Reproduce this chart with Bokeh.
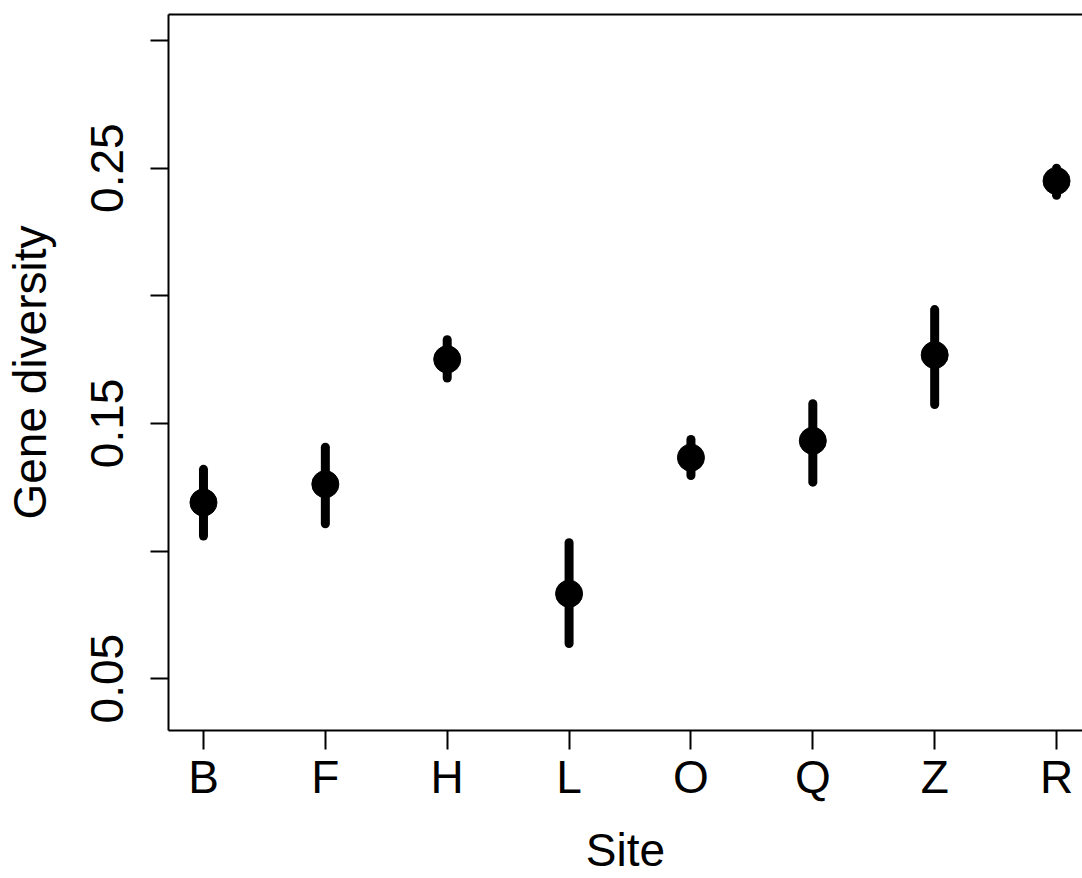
from bokeh.plotting import figure
from bokeh.models import FixedTicker, LinearAxis, Range1d
from bokeh.embed import file_html
from bokeh.resources import INLINE

sites = ["B", "F", "H", "L", "O", "Q", "Z", "R"]
diversity = [0.1190, 0.1262, 0.1751, 0.0833, 0.1366, 0.1432, 0.1768, 0.2450]
upper = [0.1320, 0.1407, 0.1828, 0.1033, 0.1437, 0.1577, 0.1946, 0.2500]
lower = [0.1059, 0.1107, 0.1678, 0.0638, 0.1296, 0.1270, 0.1574, 0.2394]
y_ticks = [0.05, 0.10, 0.15, 0.20, 0.25, 0.30]
y_tick_labels = {0.05: "0.05", 0.10: "", 0.15: "0.15", 0.20: "", 0.25: "0.25", 0.30: ""}

xs = list(range(1, len(sites) + 1))
FONT = "Liberation Sans"
FS = "46px"

p = figure(width=1082, height=878, output_backend="svg", toolbar_location=None,
           x_range=Range1d(0.713, 8.213), y_range=Range1d(0.0297, 0.3102),
           min_border_left=167, min_border_top=14, min_border_right=0, min_border_bottom=147)
p.xgrid.visible = False
p.ygrid.visible = False
p.outline_line_color = None
p.background_fill_color = "white"
p.border_fill_color = "white"

p.segment(x0=xs, y0=lower, x1=xs, y1=upper, line_width=9, line_cap="round", color="black")
p.scatter(xs, diversity, size=27, color="black")

# x axis
xa = p.xaxis[0]
xa.ticker = FixedTicker(ticks=xs)
xa.major_label_overrides = {i: s for i, s in zip(xs, sites)}
xa.minor_tick_line_color = None
xa.major_tick_in = 0
xa.major_tick_out = 19
xa.major_tick_line_width = 2
xa.axis_line_width = 2
xa.major_label_standoff = 1
xa.major_label_text_font = FONT
xa.major_label_text_font_size = FS
xa.major_label_text_color = "black"
xa.axis_label = "Site"
xa.axis_label_text_font = FONT
xa.axis_label_text_font_size = FS
xa.axis_label_text_font_style = "normal"
xa.axis_label_text_color = "black"
xa.axis_label_standoff = 18

# y axis
ya = p.yaxis[0]
ya.ticker = FixedTicker(ticks=y_ticks)
ya.major_label_overrides = y_tick_labels
ya.minor_tick_line_color = None
ya.major_tick_in = 0
ya.major_tick_out = 18
ya.major_tick_line_width = 2
ya.axis_line_width = 2
ya.major_label_orientation = "vertical"
ya.major_label_standoff = 27
ya.major_label_text_font = FONT
ya.major_label_text_font_size = FS
ya.major_label_text_color = "black"
ya.axis_label = "Gene diversity"
ya.axis_label_text_font = FONT
ya.axis_label_text_font_size = FS
ya.axis_label_text_font_style = "normal"
ya.axis_label_text_color = "black"
ya.axis_label_standoff = 33

# top box line
top = LinearAxis(ticker=FixedTicker(ticks=[]), axis_line_width=2,
                 major_tick_line_color=None, minor_tick_line_color=None,
                 major_label_text_font_size="0px")
p.add_layout(top, "above")

open("out.html", "w").write(file_html(p, INLINE))
